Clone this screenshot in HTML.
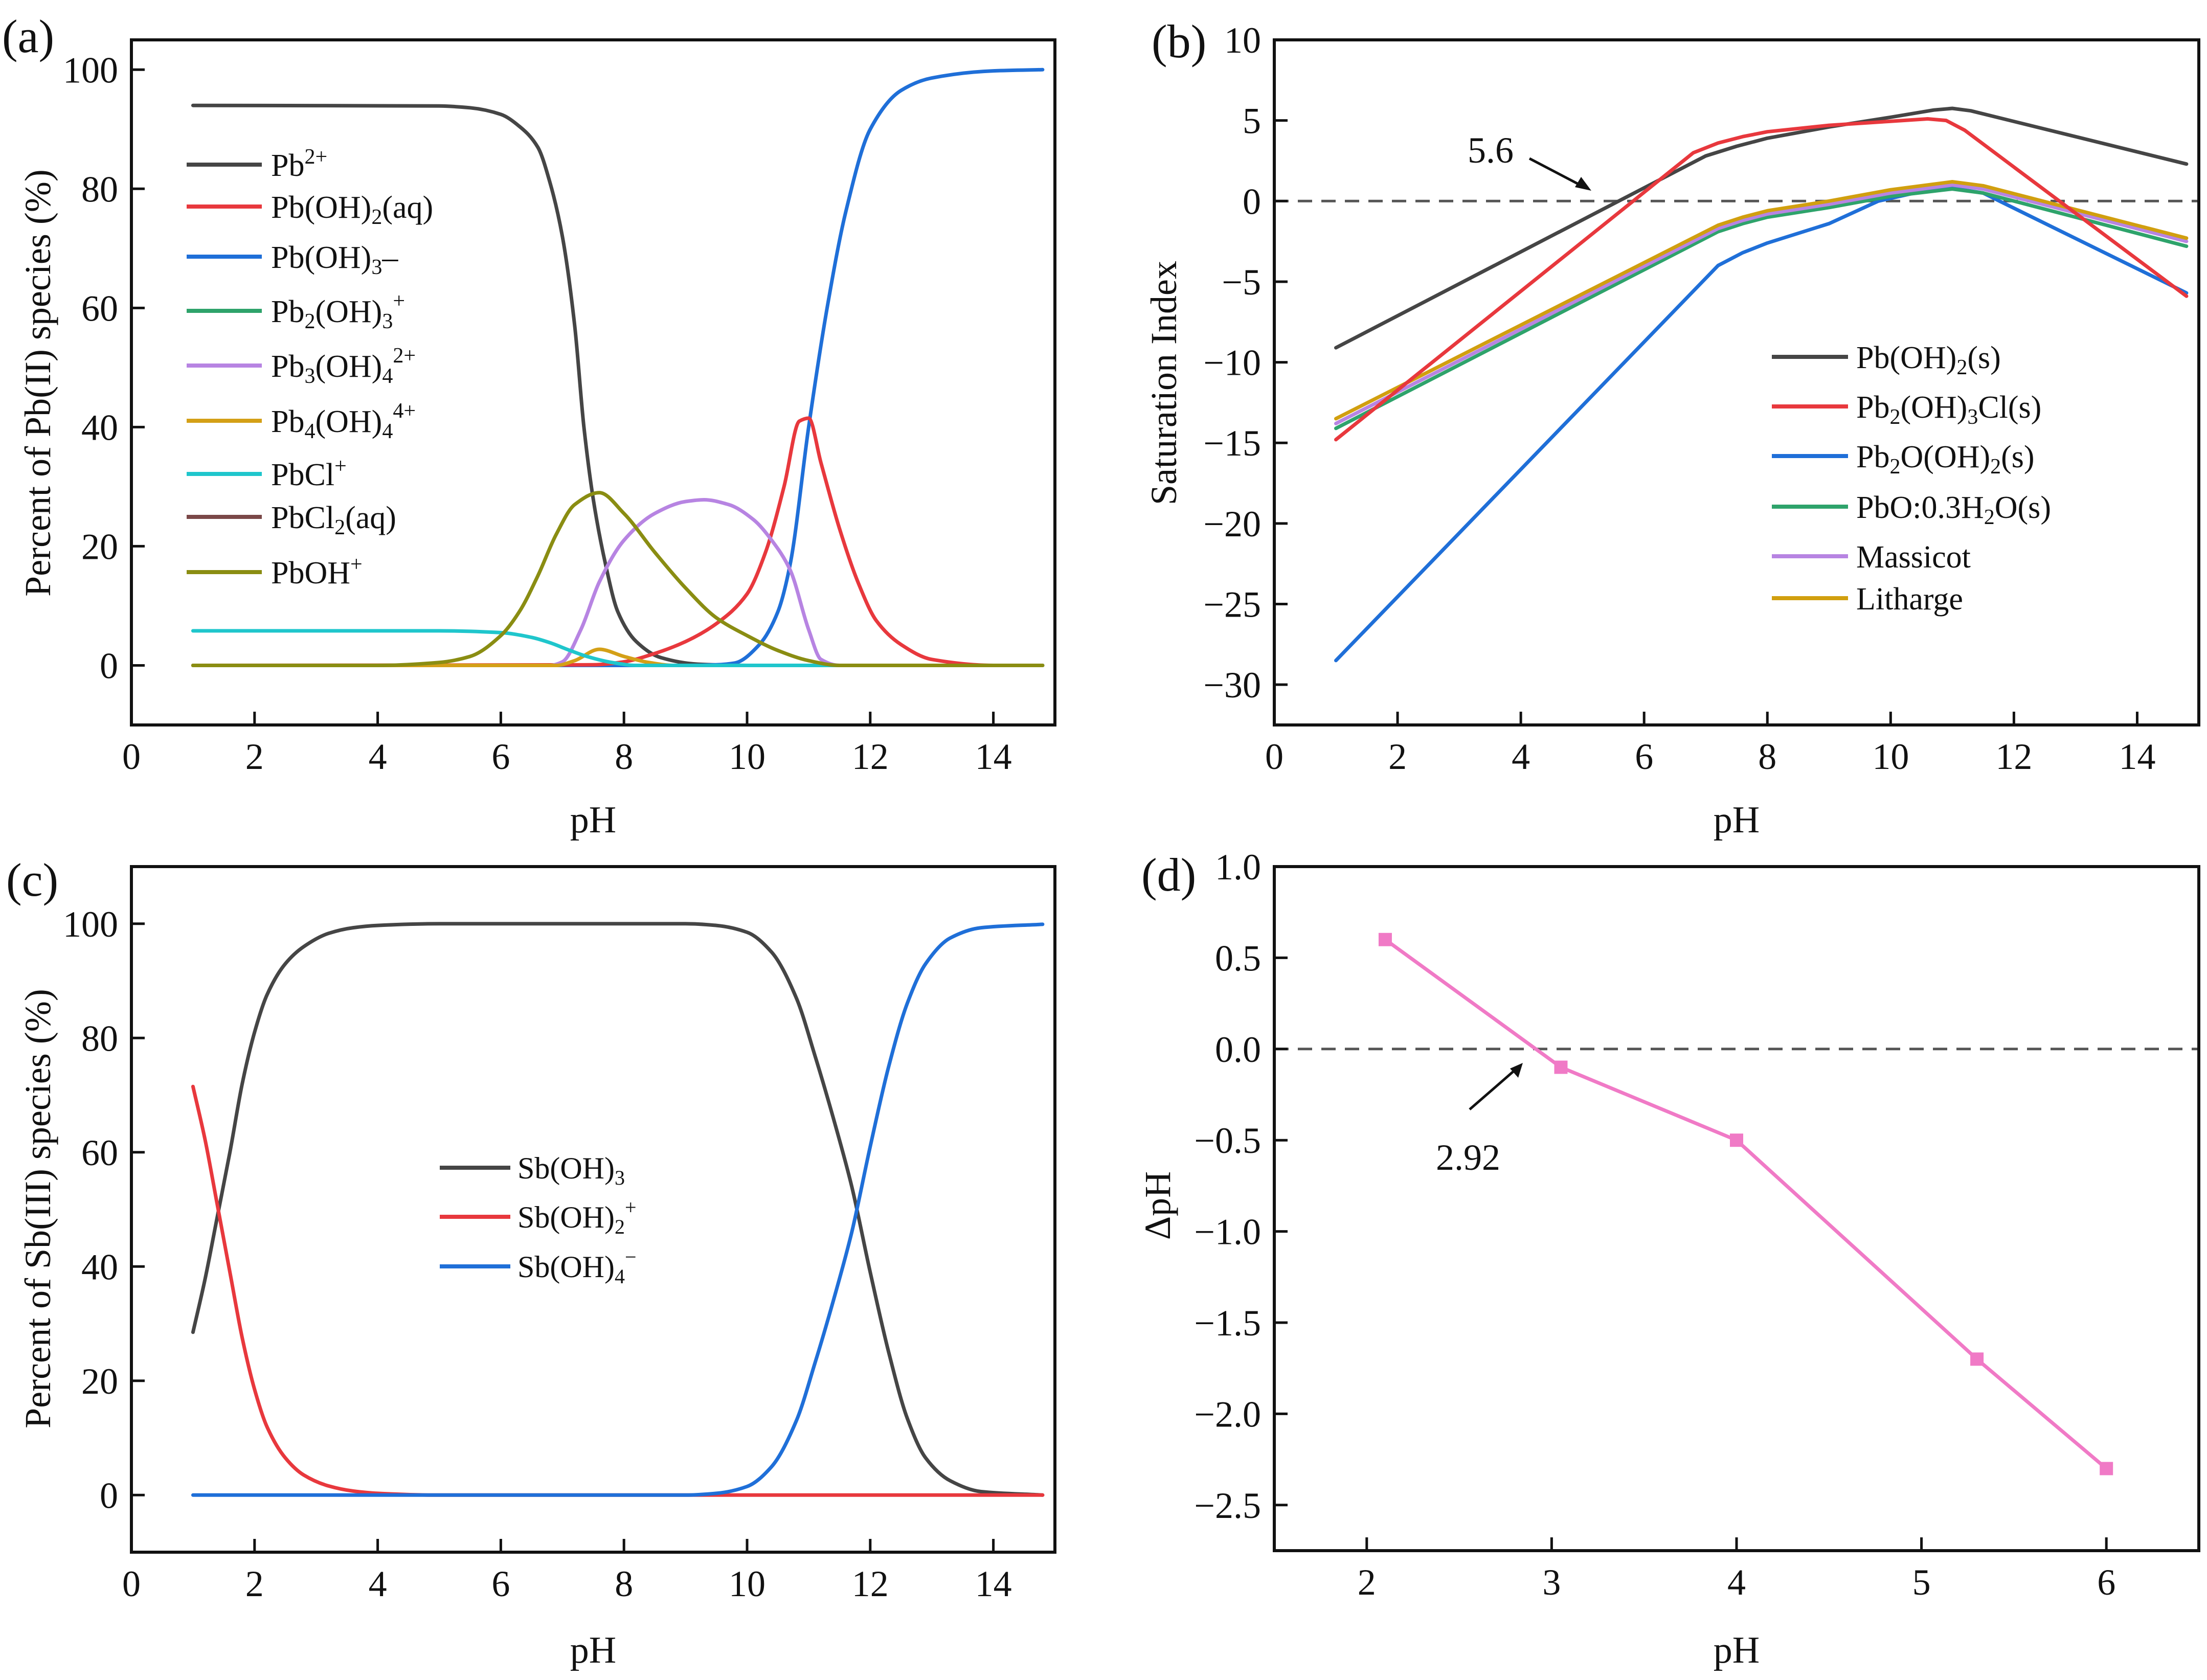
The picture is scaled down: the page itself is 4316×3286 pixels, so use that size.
<!DOCTYPE html>
<html><head><meta charset="utf-8">
<style>
html,body{margin:0;padding:0;background:#fff;}
svg{display:block;}
text{font-family:"Liberation Serif",serif;fill:#111;}
</style></head>
<body>
<svg id="fig" width="4316" height="3286" viewBox="0 0 4316 3286" xmlns="http://www.w3.org/2000/svg">
<rect x="0" y="0" width="4316" height="3286" fill="#fff"/>
<g id="layer-marks"></g>
<g id="layer-axes"></g>

<!-- panel labels -->
<text x="4" y="102" font-size="92">(a)</text>
<text x="2252" y="112" font-size="92">(b)</text>
<text x="12" y="1752" font-size="92">(c)</text>
<text x="2232" y="1742" font-size="92">(d)</text>

<!-- axis titles -->
<text x="1160" y="1628" font-size="74" text-anchor="middle">pH</text>
<text x="3396" y="1628" font-size="74" text-anchor="middle">pH</text>
<text x="1160" y="3252" font-size="74" text-anchor="middle">pH</text>
<text x="3396" y="3252" font-size="74" text-anchor="middle">pH</text>
<text transform="translate(98,749) rotate(-90)" font-size="72" text-anchor="middle">Percent of Pb(II) species (%)</text>
<text transform="translate(2300,749) rotate(-90)" font-size="72" text-anchor="middle">Saturation Index</text>
<text transform="translate(98,2364) rotate(-90)" font-size="72" text-anchor="middle">Percent of Sb(III) species (%)</text>
<text transform="translate(2288,2358) rotate(-90)" font-size="72" text-anchor="middle">ΔpH</text>

<!-- legend a -->
<g font-size="62">
 <g><line x1="365" y1="322" x2="512" y2="322" stroke="#454545" stroke-width="8"/><text x="530" y="344">Pb<tspan dy="-24" font-size="42">2+</tspan></text></g>
 <g><line x1="365" y1="404" x2="512" y2="404" stroke="#e8383d" stroke-width="8"/><text x="530" y="426">Pb(OH)<tspan dy="12" font-size="42">2</tspan><tspan dy="-12">(aq)</tspan></text></g>
 <g><line x1="365" y1="502" x2="512" y2="502" stroke="#1f6fd8" stroke-width="8"/><text x="530" y="524">Pb(OH)<tspan dy="12" font-size="42">3</tspan><tspan dy="-12">–</tspan></text></g>
 <g><line x1="365" y1="608" x2="512" y2="608" stroke="#2ea36b" stroke-width="8"/><text x="530" y="630">Pb<tspan dy="12" font-size="42">2</tspan><tspan dy="-12">(OH)</tspan><tspan dy="12" font-size="42">3</tspan><tspan dy="-40" font-size="42">+</tspan></text></g>
 <g><line x1="365" y1="715" x2="512" y2="715" stroke="#b784e2" stroke-width="8"/><text x="530" y="737">Pb<tspan dy="12" font-size="42">3</tspan><tspan dy="-12">(OH)</tspan><tspan dy="12" font-size="42">4</tspan><tspan dy="-40" font-size="42">2+</tspan></text></g>
 <g><line x1="365" y1="823" x2="512" y2="823" stroke="#d4a017" stroke-width="8"/><text x="530" y="845">Pb<tspan dy="12" font-size="42">4</tspan><tspan dy="-12">(OH)</tspan><tspan dy="12" font-size="42">4</tspan><tspan dy="-40" font-size="42">4+</tspan></text></g>
 <g><line x1="365" y1="927" x2="512" y2="927" stroke="#1fc6cc" stroke-width="8"/><text x="530" y="949">PbCl<tspan dy="-24" font-size="42">+</tspan></text></g>
 <g><line x1="365" y1="1011" x2="512" y2="1011" stroke="#7a4848" stroke-width="8"/><text x="530" y="1033">PbCl<tspan dy="12" font-size="42">2</tspan><tspan dy="-12">(aq)</tspan></text></g>
 <g><line x1="365" y1="1119" x2="512" y2="1119" stroke="#8a8d12" stroke-width="8"/><text x="530" y="1141">PbOH<tspan dy="-24" font-size="42">+</tspan></text></g>
</g>

<!-- legend b -->
<g font-size="62">
 <g><line x1="3465" y1="698" x2="3614" y2="698" stroke="#454545" stroke-width="8"/><text x="3630" y="720">Pb(OH)<tspan dy="12" font-size="42">2</tspan><tspan dy="-12">(s)</tspan></text></g>
 <g><line x1="3465" y1="795" x2="3614" y2="795" stroke="#e8383d" stroke-width="8"/><text x="3630" y="817">Pb<tspan dy="12" font-size="42">2</tspan><tspan dy="-12">(OH)</tspan><tspan dy="12" font-size="42">3</tspan><tspan dy="-12">Cl(s)</tspan></text></g>
 <g><line x1="3465" y1="892" x2="3614" y2="892" stroke="#1f6fd8" stroke-width="8"/><text x="3630" y="914">Pb<tspan dy="12" font-size="42">2</tspan><tspan dy="-12">O(OH)</tspan><tspan dy="12" font-size="42">2</tspan><tspan dy="-12">(s)</tspan></text></g>
 <g><line x1="3465" y1="991" x2="3614" y2="991" stroke="#2ea36b" stroke-width="8"/><text x="3630" y="1013">PbO:0.3H<tspan dy="12" font-size="42">2</tspan><tspan dy="-12">O(s)</tspan></text></g>
 <g><line x1="3465" y1="1088" x2="3614" y2="1088" stroke="#b784e2" stroke-width="8"/><text x="3630" y="1110">Massicot</text></g>
 <g><line x1="3465" y1="1170" x2="3614" y2="1170" stroke="#d19f0f" stroke-width="8"/><text x="3630" y="1192">Litharge</text></g>
</g>

<!-- legend c -->
<g font-size="60">
 <g><line x1="860" y1="2284" x2="998" y2="2284" stroke="#454545" stroke-width="8"/><text x="1012" y="2305">Sb(OH)<tspan dy="12" font-size="40">3</tspan></text></g>
 <g><line x1="860" y1="2380" x2="998" y2="2380" stroke="#e8383d" stroke-width="8"/><text x="1012" y="2401">Sb(OH)<tspan dy="12" font-size="40">2</tspan><tspan dy="-38" font-size="40">+</tspan></text></g>
 <g><line x1="860" y1="2477" x2="998" y2="2477" stroke="#1f6fd8" stroke-width="8"/><text x="1012" y="2498">Sb(OH)<tspan dy="12" font-size="40">4</tspan><tspan dy="-38" font-size="40">−</tspan></text></g>
</g>

<!-- annotations -->
<text x="2870" y="318" font-size="72">5.6</text>
<line x1="2991" y1="310" x2="3098" y2="366" stroke="#111" stroke-width="5"/>
<polygon points="3112,373 3080,366 3092,346" fill="#111"/>
<text x="2808" y="2288" font-size="72">2.92</text>
<line x1="2874" y1="2170" x2="2966" y2="2090" stroke="#111" stroke-width="5"/>
<polygon points="2978,2079 2969,2108 2953,2090" fill="#111"/>
</svg>

<script>
// ---------- Panel (a) data: Pb(II) speciation ----------
const aPb2X   = [1,5,5.5,6,6.3,6.6,6.8,7.0,7.2,7.35,7.5,7.7,7.9,8.2,8.6,9.2,10,14.8];
const aPb2Y   = [94,93.9,93.6,92.5,90.5,87,81,72,57,40,28,17,9,4,1.3,0.2,0,0];
const aOH3X   = [1,9,9.5,9.8,10.2,10.5,10.7,11,11.3,11.6,12,12.5,13,14,14.8];
const aOH3Y   = [0,0,0.1,0.4,3.5,9,17,40,60,76,90,96.5,98.6,99.8,100];
const aOH2X   = [1,7.5,8,8.5,9,9.5,10,10.3,10.6,10.85,11.0,11.2,11.5,11.8,12.1,12.5,13,14,14.8];
const aOH2Y   = [0,0.1,0.6,2,4,7,12,19,30,41,41.5,34,23,14,7.5,3.5,1,0,0];
const aPb3X   = [1,6.8,7.0,7.3,7.6,8,8.5,9,9.3,9.7,10.1,10.4,10.7,11.0,11.2,11.5,14.8];
const aPb3Y   = [0,0,0.6,6,14,21,25.5,27.5,27.8,27,24.5,21,16,6,1,0,0];
const aPb4X   = [1,6.9,7.2,7.6,8.0,8.4,8.8,14.8];
const aPb4Y   = [0,0,0.8,2.7,1.5,0.5,0,0];
const aClX    = [1,5,6,6.5,6.8,7.1,7.4,7.8,8.2,14.8];
const aClY    = [5.8,5.8,5.5,4.7,3.8,2.6,1.5,0.5,0,0];
const aPb2OHX = [1,14.8];
const aPb2OHY = [0,0];
const aCl2X   = [1,14.8];
const aCl2Y   = [0,0];
const aOHX    = [1,4,5,5.5,6,6.3,6.6,6.9,7.2,7.6,8,8.5,9,9.5,10,10.5,11,11.5,14.8];
const aOHY    = [0,0,0.5,1.5,5,9,15,22,27,29,25.5,19,13,8,5,2.5,0.8,0,0];
const aXTicks = [0,2,4,6,8,10,12,14];
const aYTicks = [0,20,40,60,80,100];

// ---------- Panel (b) data: saturation index ----------
const bBlackX = [1,7,7.5,8,9,10,10.7,11,11.3,14.8];
const bBlackY = [-9.1,2.8,3.4,3.9,4.6,5.2,5.65,5.75,5.6,2.3];
const bRedX   = [1,6.8,7.2,7.6,8,9,10,10.6,10.9,11.2,14.8];
const bRedY   = [-14.8,3.0,3.6,4.0,4.3,4.7,4.95,5.1,5.0,4.4,-5.9];
const bBlueX  = [1,7.2,7.6,8,9,9.8,10.5,11,11.5,14.8];
const bBlueY  = [-28.5,-4.0,-3.2,-2.6,-1.4,0,0.6,0.8,0.5,-5.7];
const bGrpX   = [1,7.2,7.6,8,9,10,11,11.5,14.8];
const bGreenY = [-14.1,-1.9,-1.4,-1.0,-0.4,0.3,0.75,0.5,-2.8];
const bMassY  = [-13.8,-1.7,-1.2,-0.8,-0.2,0.5,1.0,0.75,-2.5];
const bLithY  = [-13.5,-1.5,-1.0,-0.6,0,0.7,1.2,0.95,-2.3];
const bXTicks = [0,2,4,6,8,10,12,14];
const bYTicks = [-30,-25,-20,-15,-10,-5,0,5,10];

// ---------- Panel (c) data: Sb(III) speciation ----------
const cBlackX = [1,1.2,1.4,1.6,1.8,2.0,2.2,2.5,2.8,3.2,3.6,4,5,9,9.5,10,10.4,10.8,11.1,11.4,11.7,12.0,12.3,12.6,12.9,13.3,13.8,14.8];
const cBlackY = [28.5,38,49,60,72,81,87.5,93,96,98.3,99.3,99.7,100,100,99.7,98.5,95,87,77,66,54,39,25,13.5,6.5,2.5,0.6,0];
const cRedX   = [1,1.2,1.4,1.6,1.8,2.0,2.2,2.5,2.8,3.2,3.6,4,5,14.8];
const cRedY   = [71.5,62,50.5,39,27.5,18.5,12,6.5,3.5,1.6,0.7,0.3,0,0];
const cBlueX  = [1,9,9.5,10,10.4,10.8,11.1,11.4,11.7,12.0,12.3,12.6,12.9,13.3,13.8,14.8];
const cBlueY  = [0,0,0.3,1.5,5,13,23,34,46,61,75,86,93,97.5,99.3,99.9];
const cXTicks = [0,2,4,6,8,10,12,14];
const cYTicks = [0,20,40,60,80,100];

// ---------- Panel (d) data: delta pH ----------
const dX = [2.1,3.05,4.0,5.3,6.0];
const dY = [0.6,-0.1,-0.5,-1.7,-2.3];
const dXTicks = [2,3,4,5,6];
const dYTicks = [-2.5,-2.0,-1.5,-1.0,-0.5,0.0,0.5,1.0];

const NS = 'http://www.w3.org/2000/svg';
const marks = document.getElementById('layer-marks');
const axes = document.getElementById('layer-axes');

function mk(tag, attrs, parent){
  const e = document.createElementNS(NS, tag);
  for (const k in attrs) e.setAttribute(k, attrs[k]);
  parent.appendChild(e);
  return e;
}
function scale(d0,d1,p0,p1){ return v => p0 + (v-d0)/(d1-d0)*(p1-p0); }
function panel(p){
  p.sx = scale(p.xd[0],p.xd[1],p.px[0],p.px[1]);
  p.sy = scale(p.yd[0],p.yd[1],p.py[1],p.py[0]);
  return p;
}
const PA = panel({px:[257,2063],py:[78,1418],xd:[0,15],yd:[-10,105]});
const PB = panel({px:[2492,4300],py:[78,1418],xd:[0,15],yd:[-32.5,10]});
const PC = panel({px:[257,2063],py:[1695,3036],xd:[0,15],yd:[-10,110]});
const PD = panel({px:[2492,4300],py:[1695,3033],xd:[1.5,6.5],yd:[-2.75,1.0]});

// monotone cubic (Fritsch-Carlson) in pixel space
function monoPath(pts){
  const n = pts.length;
  if (n < 3) return 'M' + pts.map(q=>q[0].toFixed(1)+','+q[1].toFixed(1)).join(' L');
  const dx=[], m=[], t=new Array(n);
  for (let i=0;i<n-1;i++){ dx[i]=pts[i+1][0]-pts[i][0]; m[i]=(pts[i+1][1]-pts[i][1])/dx[i]; }
  t[0]=m[0]; t[n-1]=m[n-2];
  for (let i=1;i<n-1;i++){
    if (m[i-1]*m[i] <= 0) t[i]=0;
    else { const w1=2*dx[i]+dx[i-1], w2=dx[i]+2*dx[i-1]; t[i]=(w1+w2)/(w1/m[i-1]+w2/m[i]); }
  }
  let d = 'M'+pts[0][0].toFixed(1)+','+pts[0][1].toFixed(1);
  for (let i=0;i<n-1;i++){
    const h=dx[i]/3;
    d += ' C'+(pts[i][0]+h).toFixed(1)+','+(pts[i][1]+t[i]*h).toFixed(1)+' '+(pts[i+1][0]-h).toFixed(1)+','+(pts[i+1][1]-t[i+1]*h).toFixed(1)+' '+pts[i+1][0].toFixed(1)+','+pts[i+1][1].toFixed(1);
  }
  return d;
}
function series(p, xs, ys, color, name, smooth){
  const pts = xs.map((x,i)=>[p.sx(x), p.sy(ys[i])]);
  const d = smooth ? monoPath(pts) : 'M' + pts.map(q=>q[0].toFixed(1)+','+q[1].toFixed(1)).join(' L');
  const el = mk('path', {d:d, fill:'none', stroke:color, 'stroke-width':7, 'stroke-linejoin':'round', 'stroke-linecap':'round'}, marks);
  
  
  return el;
}

function drawAxes(p, xt, yt, tag, fmt){
  const fr = mk('rect', {x:p.px[0], y:p.py[0], width:p.px[1]-p.px[0], height:p.py[1]-p.py[0], fill:'none', stroke:'#111', 'stroke-width':6}, axes);
  
  
  xt.forEach(v=>{
    const x = p.sx(v);
    const t = mk('line', {x1:x, y1:p.py[1], x2:x, y2:p.py[1]-26, stroke:'#111', 'stroke-width':5}, axes);
    
    
    const l = mk('text', {x:x, y:p.py[1]+86, 'font-size':72, 'text-anchor':'middle'}, axes);
    l.textContent = String(v);
    
    
  });
  yt.forEach(v=>{
    const y = p.sy(v);
    const t = mk('line', {x1:p.px[0], y1:y, x2:p.px[0]+26, y2:y, stroke:'#111', 'stroke-width':5}, axes);
    
    
    const l = mk('text', {x:p.px[0]-26, y:y+25, 'font-size':72, 'text-anchor':'end'}, axes);
    l.textContent = fmt ? fmt(v) : String(v).replace('-', '\u2212');
    
    
  });
}
function zeroLine(p, tag){
  const y = p.sy(0);
  const l = mk('line', {x1:p.px[0], y1:y, x2:p.px[1], y2:y, stroke:'#555', 'stroke-width':5, 'stroke-dasharray':'28,18'}, marks);
  
  
}

// Panel a
series(PA, aPb2OHX, aPb2OHY, '#2ea36b', 'line-pb2oh3', false);
series(PA, aCl2X, aCl2Y, '#7a4848', 'line-pbcl2aq', false);
series(PA, aPb2X, aPb2Y, '#454545', 'line-pb2plus', true);
series(PA, aOH3X, aOH3Y, '#1f6fd8', 'line-pboh3', true);
series(PA, aOH2X, aOH2Y, '#e8383d', 'line-pboh2aq', true);
series(PA, aPb3X, aPb3Y, '#b784e2', 'line-pb3oh4', true);
series(PA, aPb4X, aPb4Y, '#d4a017', 'line-pb4oh4', true);
series(PA, aClX, aClY, '#1fc6cc', 'line-pbcl', true);
series(PA, aOHX, aOHY, '#8a8d12', 'line-pboh', true);
drawAxes(PA, aXTicks, aYTicks, 'a');

// Panel b (piecewise linear, as in the original)
zeroLine(PB, 'b');
series(PB, bBlackX, bBlackY, '#454545', 'line-pboh2s', false);
series(PB, bBlueX, bBlueY, '#1f6fd8', 'line-pb2ooh2s', false);
series(PB, bGrpX, bGreenY, '#2ea36b', 'line-pbo-0-3h2o', false);
series(PB, bGrpX, bMassY, '#b784e2', 'line-massicot', false);
series(PB, bGrpX, bLithY, '#d19f0f', 'line-litharge', false);
series(PB, bRedX, bRedY, '#e8383d', 'line-pb2oh3cl', false);
drawAxes(PB, bXTicks, bYTicks, 'b');

// Panel c
series(PC, cBlackX, cBlackY, '#454545', 'line-sboh3', true);
series(PC, cRedX, cRedY, '#e8383d', 'line-sboh2plus', true);
series(PC, cBlueX, cBlueY, '#1f6fd8', 'line-sboh4minus', true);
drawAxes(PC, cXTicks, cYTicks, 'c');

// Panel d
zeroLine(PD, 'd');
series(PD, dX, dY, '#f07ac6', 'line-delta-ph', false);
dX.forEach((x,i)=>{
  const cx = PD.sx(x), cy = PD.sy(dY[i]);
  const r = mk('rect', {x:cx-13, y:cy-13, width:26, height:26, fill:'#f07ac6'}, marks);
  
  
});
drawAxes(PD, dXTicks, dYTicks, 'd', v => (v<0?'\u2212':'') + Math.abs(v).toFixed(1));
</script>
</body></html>
